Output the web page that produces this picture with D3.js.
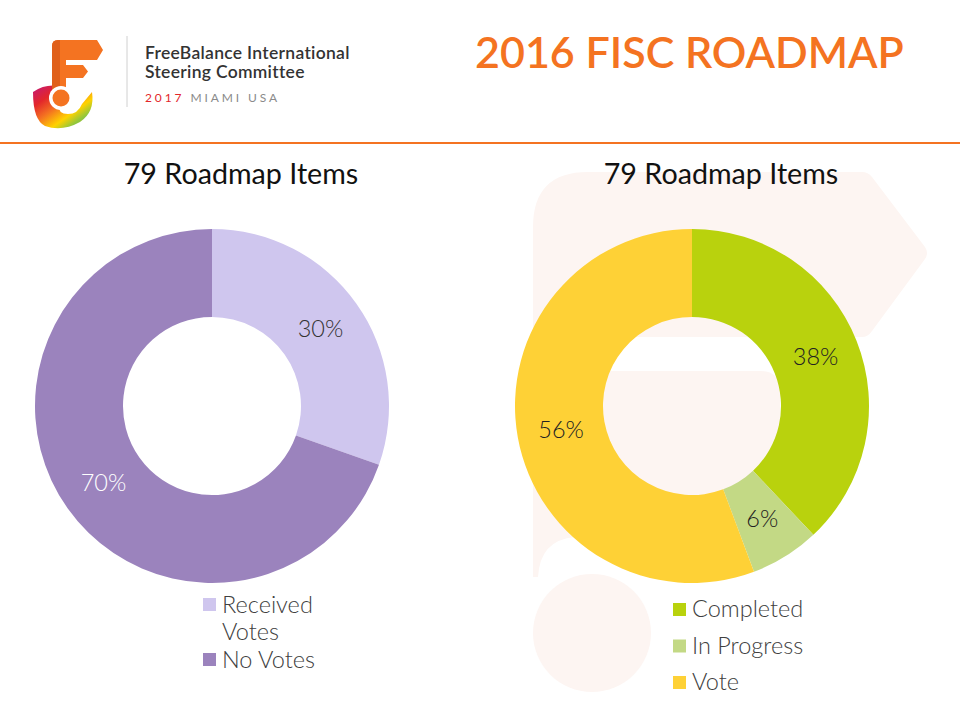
<!DOCTYPE html>
<html><head><meta charset="utf-8">
<script src="https://cdn.jsdelivr.net/npm/d3@7"></script>
<style>body{margin:0;background:#fff}svg{display:block}text{font-family:Lato,"Open Sans",sans-serif}.light{font-family:"Lato Light",Lato,sans-serif;font-weight:300}</style>
</head><body>
<svg id="c" width="960" height="720"></svg>
<script>
// Data
const leftCategories = ["Received Votes", "No Votes"];
const leftValues = [24, 55];
const leftColors = ["#cfc6ee", "#9b83bd"];
const leftLabelColors = ["#333333", "#ffffff"];
const rightCategories = ["Completed", "In Progress", "Vote"];
const rightValues = [30, 5, 44];
const rightColors = ["#b9d20d", "#c3d985", "#fed136"];
const rightLabelColors = ["#222222", "#222222", "#222222"];
const chartTitle = "79 Roadmap Items";
const pageTitle = "2016 FISC ROADMAP";

const svg = d3.select("#c");

// Watermark behind right chart
const wm = svg.append("g").attr("fill", "#fdf5f2");
wm.append("path").attr("d", "M533,227 Q533,172 588,172 L862,172 Q868,172 872,177 L925,247 Q929,253 925,259 L872,331 Q868,337 862,337 L533,337 Z");
wm.append("path").attr("d", "M533,371 L760,371 Q780,371 780,391 L780,537 L575,537 Q540,540 538,577 L533,577 Z");
wm.append("circle").attr("cx", 592).attr("cy", 633).attr("r", 59);

// Header logo
const logo = svg.append("g");
const defs = svg.append("defs");
const grad = defs.append("linearGradient").attr("id", "rb").attr("x1", "0").attr("y1", "0").attr("x2", "1").attr("y2", "1");
[["0", "#c2187a"], ["0.25", "#e3262b"], ["0.45", "#f47321"], ["0.65", "#ffd200"], ["0.8", "#8dc63f"], ["1", "#f6a01a"]].forEach(s => grad.append("stop").attr("offset", s[0]).attr("stop-color", s[1]));
logo.append("path").attr("d", "M33,92 Q45,84 58,86 L58,104 Q58,114 68,114 Q78,114 82,104 L92,92 Q95,112 80,122 Q62,132 45,126 Q33,120 33,92 Z").attr("fill", "url(#rb)");
logo.append("path").attr("d", "M52,46 Q52,40 58,40 L97,40 L103,50 L97,60 L66,60 L66,65 L83,65 L88,71.5 L83,78 L66,78 L66,92 L52,92 Z").attr("fill", "#f47321");
logo.append("path").attr("d", "M52,46 Q52,40 58,40 L60,40 L60,92 L52,92 Z").attr("fill", "#e0601b");
logo.append("circle").attr("cx", 61).attr("cy", 98).attr("r", 12).attr("fill", "#fff");
logo.append("circle").attr("cx", 61).attr("cy", 98).attr("r", 8.5).attr("fill", "#f47321");
svg.append("line").attr("x1", 127).attr("x2", 127).attr("y1", 36).attr("y2", 107).attr("stroke", "#d0d0d0").attr("stroke-width", 1);
svg.append("text").attr("x", 145).attr("y", 59).attr("font-size", 17.5).attr("font-weight", 600).attr("letter-spacing", 0.3).attr("fill", "#333").text("FreeBalance International");
svg.append("text").attr("x", 145).attr("y", 78).attr("font-size", 17.5).attr("font-weight", 600).attr("letter-spacing", 0.3).attr("fill", "#333").text("Steering Committee");
const sub = svg.append("text").attr("x", 145).attr("y", 102).attr("font-size", 12).attr("letter-spacing", 2.9);
sub.append("tspan").attr("fill", "#e3262b").text("2017 ");
sub.append("tspan").attr("fill", "#8a8a8a").text("MIAMI USA");

svg.append("text").attr("x", 475).attr("y", 68).attr("font-size", 43).attr("font-weight", 600).attr("fill", "#f47321").text(pageTitle);
svg.append("rect").attr("x", 0).attr("y", 142).attr("width", 960).attr("height", 2).attr("fill", "#f47321");

// Donuts
const R = 177, r = 89;
const arc = d3.arc().innerRadius(r).outerRadius(R);
const pie = d3.pie().sort(null).value(d => d);

function donut(cx, cy, values, colors, labelColors) {
  const g = svg.append("g").attr("transform", `translate(${cx},${cy})`);
  const total = d3.sum(values);
  const arcs = pie(values);
  g.selectAll("path").data(arcs).join("path").attr("d", arc).attr("fill", (d, i) => colors[i]);
  g.selectAll("text").data(arcs).join("text").attr("class", "light")
    .attr("transform", d => `translate(${arc.centroid(d)})`)
    .attr("text-anchor", "middle").attr("dy", "0.35em")
    .attr("font-size", 23.5)
    .attr("fill", (d, i) => labelColors[i])
    .text(d => d3.format(".0%")(d.value / total));
}
donut(212, 406, leftValues, leftColors, leftLabelColors);
donut(692, 406, rightValues, rightColors, rightLabelColors);

svg.append("text").attr("x", 241).attr("y", 184).attr("text-anchor", "middle").attr("font-size", 28.7).attr("fill", "#111").text(chartTitle);
svg.append("text").attr("x", 721).attr("y", 184).attr("text-anchor", "middle").attr("font-size", 28.7).attr("fill", "#111").text(chartTitle);

// Left legend
const ll = [{y: 598, lines: ["Received", "Votes"]}, {y: 653, lines: ["No Votes"]}];
leftCategories.forEach((c, i) => {
  svg.append("rect").attr("x", 203).attr("y", ll[i].y).attr("width", 13).attr("height", 13).attr("fill", leftColors[i]);
  const t = svg.append("text").attr("class", "light").attr("x", 222).attr("y", ll[i].y + 15).attr("font-size", 23.5).attr("fill", "#404040");
  ll[i].lines.forEach((ln, k) => t.append("tspan").attr("x", 222).attr("dy", k ? 27 : 0).text(ln));
});
// Right legend
rightCategories.forEach((c, i) => {
  const y = 603 + i * 36.5;
  svg.append("rect").attr("x", 673).attr("y", y).attr("width", 13).attr("height", 13).attr("fill", rightColors[i]);
  svg.append("text").attr("class", "light").attr("x", 692).attr("y", y + 14).attr("font-size", 23.5).attr("fill", "#404040").text(c);
});
</script>
</body></html>
